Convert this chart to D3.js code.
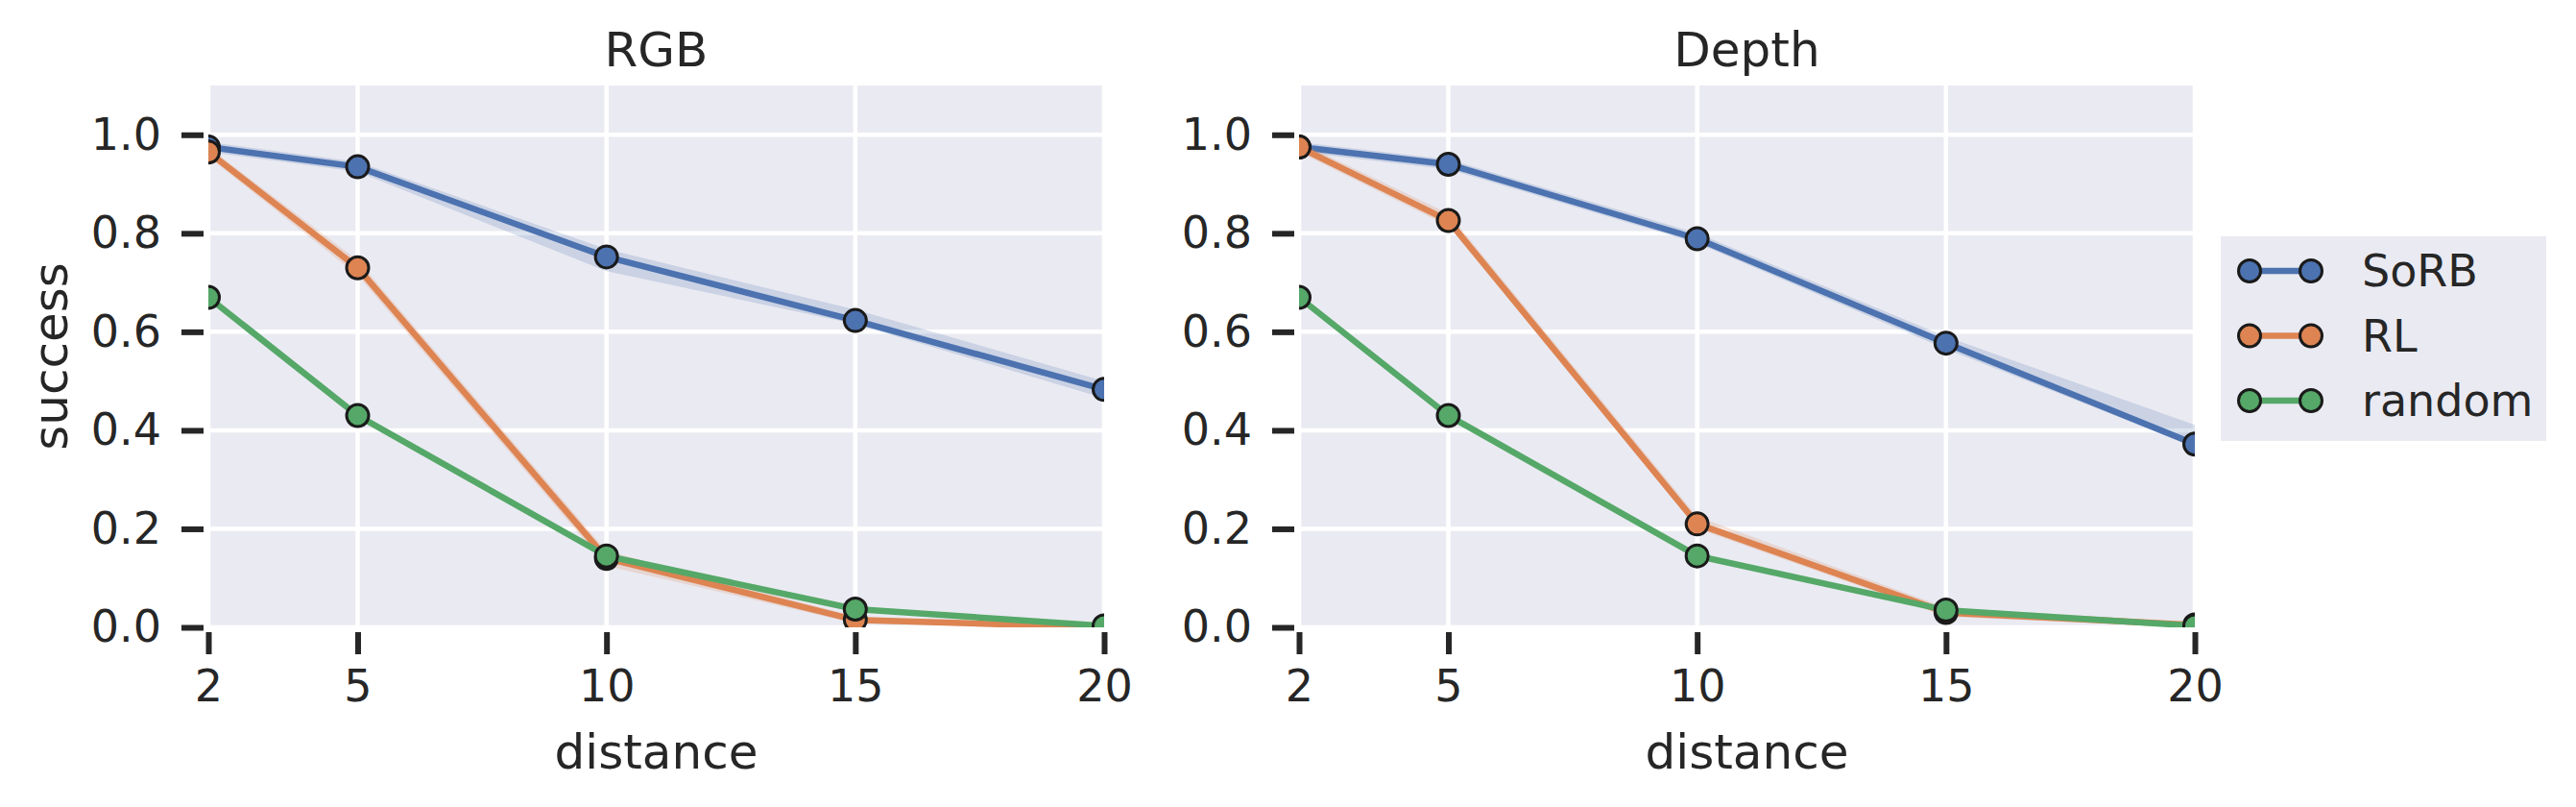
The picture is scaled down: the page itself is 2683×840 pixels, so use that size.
<!DOCTYPE html>
<html>
<head>
<meta charset="utf-8">
<script src="https://cdn.jsdelivr.net/npm/d3@7"></script>
<style>
  body { margin: 0; background: #fff; }
  text { font-family: "DejaVu Sans", sans-serif; fill: #262626; }
</style>
</head>
<body>
<svg id="chart"></svg>
<script>
// Chart size
const width = 2683;
const height = 840;

// Data
const distances = [2, 5, 10, 15, 20];
const methods = ["SoRB", "RL", "random"];
const panels = ["RGB", "Depth"];
const xTicks = [2, 5, 10, 15, 20];
const yTicks = [0, 0.2, 0.4, 0.6, 0.8, 1.0];

const rgbSorb = [0.975, 0.935, 0.752, 0.623, 0.483];
const rgbSorbLo = [0.965, 0.925, 0.723, 0.616, 0.465];
const rgbSorbHi = [0.985, 0.945, 0.768, 0.645, 0.5];
const rgbRl = [0.965, 0.73, 0.14, 0.015, 0.0];
const rgbRlLo = [0.955, 0.715, 0.125, 0.008, 0.0];
const rgbRlHi = [0.975, 0.745, 0.155, 0.022, 0.004];
const rgbRandom = [0.67, 0.43, 0.145, 0.037, 0.003];

const depthSorb = [0.975, 0.94, 0.789, 0.577, 0.372];
const depthSorbLo = [0.965, 0.93, 0.78, 0.565, 0.366];
const depthSorbHi = [0.985, 0.95, 0.8, 0.59, 0.411];
const depthRl = [0.975, 0.826, 0.21, 0.03, 0.005];
const depthRlLo = [0.965, 0.815, 0.2, 0.022, 0.0];
const depthRlHi = [0.985, 0.84, 0.225, 0.04, 0.01];
const depthRandom = [0.67, 0.43, 0.145, 0.035, 0.003];

// series per panel: [values, lower, upper]
const panelSeries = {
  RGB: [
    [rgbSorb, rgbSorbLo, rgbSorbHi],
    [rgbRl, rgbRlLo, rgbRlHi],
    [rgbRandom, null, null]
  ],
  Depth: [
    [depthSorb, depthSorbLo, depthSorbHi],
    [depthRl, depthRlLo, depthRlHi],
    [depthRandom, null, null]
  ]
};

const colorScale = d3.scaleOrdinal().domain(methods).range(["#4C72B0", "#DD8452", "#55A868"]);

const svg = d3.select("#chart").attr("width", width).attr("height", height);

const panelLeft = [217, 1353];
const panelWidth = 933;
const plotTop = 89;
const plotBottom = 653;

const yScale = d3.scaleLinear().domain([0, 1.1]).range([plotBottom, plotTop]);

panels.forEach((name, p) => {
  const x0 = panelLeft[p];
  const xScale = d3.scaleLinear().domain([2, 20]).range([x0, x0 + panelWidth]);
  const g = svg.append("g");

  // background
  g.append("rect")
    .attr("x", x0).attr("y", plotTop)
    .attr("width", panelWidth).attr("height", plotBottom - plotTop)
    .attr("fill", "#EAEAF2");

  // grid
  g.selectAll(".hgrid").data(yTicks).enter().append("line")
    .attr("x1", x0).attr("x2", x0 + panelWidth)
    .attr("y1", (d) => yScale(d)).attr("y2", (d) => yScale(d))
    .attr("stroke", "#fff").attr("stroke-width", 4.5);
  g.selectAll(".vgrid").data(xTicks).enter().append("line")
    .attr("x1", (d) => xScale(d)).attr("x2", (d) => xScale(d))
    .attr("y1", plotTop).attr("y2", plotBottom)
    .attr("stroke", "#fff").attr("stroke-width", 4.5);

  // clip
  const clipId = "clip" + p;
  svg.append("clipPath").attr("id", clipId).append("rect")
    .attr("x", x0).attr("y", plotTop)
    .attr("width", panelWidth).attr("height", plotBottom - plotTop);

  const plot = g.append("g").attr("clip-path", "url(#" + clipId + ")");

  const line = d3.line().x((d) => xScale(d[0])).y((d) => yScale(d[1]));
  const area = d3.area()
    .x((d) => xScale(d[0]))
    .y0((d) => yScale(d[1]))
    .y1((d) => yScale(d[2]));

  panelSeries[name].forEach((s, i) => {
    const color = colorScale(methods[i]);
    const [vals, lo, hi] = s;
    if (lo) {
      plot.append("path")
        .datum(distances.map((d, j) => [d, lo[j], hi[j]]))
        .attr("d", area)
        .attr("fill", color)
        .attr("fill-opacity", 0.2);
    }
    const pts = distances.map((d, j) => [d, vals[j]]);
    plot.append("path")
      .datum(pts)
      .attr("d", line)
      .attr("fill", "none")
      .attr("stroke", color)
      .attr("stroke-width", 6.5);
    plot.selectAll(".m" + i).data(pts).enter().append("circle")
      .attr("cx", (d) => xScale(d[0]))
      .attr("cy", (d) => yScale(d[1]))
      .attr("r", 11.5)
      .attr("fill", color)
      .attr("stroke", "#1a1a1a")
      .attr("stroke-width", 3);
  });

  // axes
  const xAxis = d3.axisBottom(xScale).tickValues(xTicks).tickSize(23).tickPadding(16);
  const yAxis = d3.axisLeft(yScale).tickValues(yTicks).tickSize(23).tickPadding(21)
    .tickFormat(d3.format(".1f"));

  const gx = svg.append("g")
    .attr("transform", "translate(0," + (plotBottom + 5) + ")")
    .call(xAxis);
  const gy = svg.append("g")
    .attr("transform", "translate(" + (x0 - 5) + ",0)")
    .call(yAxis);

  [gx, gy].forEach((a) => {
    a.select(".domain").remove();
    a.selectAll(".tick line").attr("stroke", "#262626").attr("stroke-width", 6);
    a.selectAll(".tick text")
      .attr("font-size", 46)
      .attr("font-family", "DejaVu Sans")
      .attr("fill", "#262626");
  });

  // title and x label
  svg.append("text")
    .attr("x", x0 + panelWidth / 2).attr("y", 69)
    .attr("text-anchor", "middle").attr("font-size", 50)
    .text(name);
  svg.append("text")
    .attr("x", x0 + panelWidth / 2).attr("y", 800)
    .attr("text-anchor", "middle").attr("font-size", 50)
    .text("distance");
});

// y label
svg.append("text")
  .attr("transform", "translate(70," + (plotBottom + plotTop) / 2 + ") rotate(-90)")
  .attr("text-anchor", "middle").attr("font-size", 50)
  .text("success");

// legend
const legend = svg.append("g");
legend.append("rect")
  .attr("x", 2313).attr("y", 246)
  .attr("width", 339).attr("height", 213)
  .attr("fill", "#EAEAF2");

const legendItems = legend.selectAll(".item").data(methods).enter().append("g")
  .attr("transform", (d, i) => "translate(2343," + (282 + i * 67.5) + ")");

legendItems.append("line")
  .attr("x1", 0).attr("x2", 64)
  .attr("stroke", (d) => colorScale(d)).attr("stroke-width", 6.5);
legendItems.selectAll("circle").data((d) => [[d, 0], [d, 64]]).enter().append("circle")
  .attr("cx", (d) => d[1]).attr("cy", 0).attr("r", 11.5)
  .attr("fill", (d) => colorScale(d[0]))
  .attr("stroke", "#1a1a1a").attr("stroke-width", 3);
legendItems.append("text")
  .attr("x", 117).attr("y", 16)
  .attr("font-size", 46)
  .text((d) => d);
</script>
</body>
</html>
